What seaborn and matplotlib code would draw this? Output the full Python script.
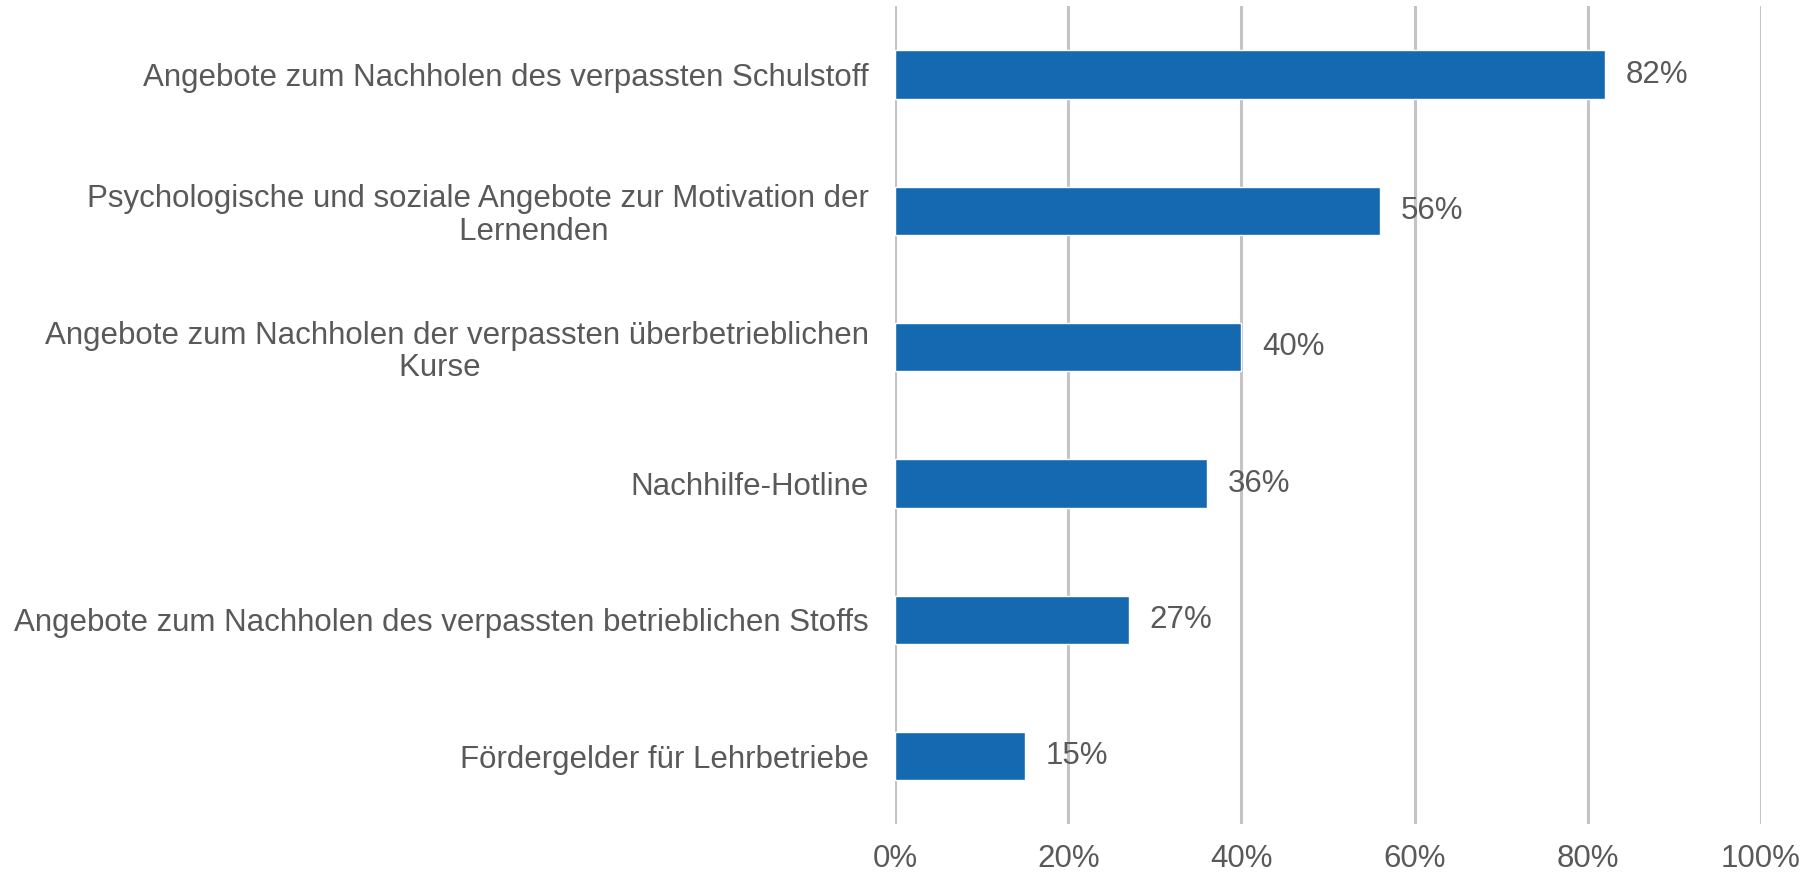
import matplotlib
matplotlib.use("Agg")
import matplotlib.pyplot as plt
import seaborn as sns
import pandas as pd
from matplotlib.ticker import FuncFormatter

categories = [
    "Angebote zum Nachholen des verpassten Schulstoff",
    "Psychologische und soziale Angebote zur Motivation der\n             Lernenden",
    "Angebote zum Nachholen der verpassten überbetrieblichen\nKurse    ",
    "Nachhilfe-Hotline",
    "Angebote zum Nachholen des verpassten betrieblichen Stoffs",
    "Fördergelder für Lehrbetriebe",
]
values = [82, 56, 40, 36, 27, 15]
x_ticks = [0, 20, 40, 60, 80, 100]

BAR_COLOR = "#1569B0"
TEXT_COLOR = "#595959"
GRID_COLOR = "#C4C4C4"
FS = 22.5

sns.set_theme(style="white")
plt.rcParams["font.family"] = ["Liberation Sans", "DejaVu Sans"]

df = pd.DataFrame({"Kategorie": categories, "Anteil": values})

fig = plt.figure(figsize=(18.09, 8.73), dpi=100)
ax = fig.add_axes([0.4948, 0.0556, 0.4787, 0.937])

sns.barplot(data=df, x="Anteil", y="Kategorie", color=BAR_COLOR,
            width=0.355, saturation=1, ax=ax, zorder=3)

ax.set_xlim(0, 100)
ax.set_ylim(len(categories) - 0.5, -0.5)
ax.set_xticks(x_ticks)
ax.xaxis.set_major_formatter(FuncFormatter(lambda v, _: f"{v:.0f}%"))
ax.grid(axis="x", color=GRID_COLOR, linewidth=2.2, zorder=0)
ax.grid(axis="y", visible=False)
ax.set_axisbelow(True)
for s in ax.spines.values():
    s.set_visible(False)

ax.set_xlabel("")
ax.set_ylabel("")
ax.tick_params(axis="x", length=0, pad=14, labelsize=FS, labelcolor=TEXT_COLOR)
ax.tick_params(axis="y", length=0, pad=19, labelsize=FS, labelcolor=TEXT_COLOR)
for lbl in ax.get_yticklabels():
    lbl.set_multialignment("center")
    lbl.set_linespacing(1.1)

for container in ax.containers:
    ax.bar_label(container, labels=[f"{v}%" for v in values], padding=15,
                 fontsize=FS, color=TEXT_COLOR)

fig.savefig("out.png", dpi=100, facecolor="white")
